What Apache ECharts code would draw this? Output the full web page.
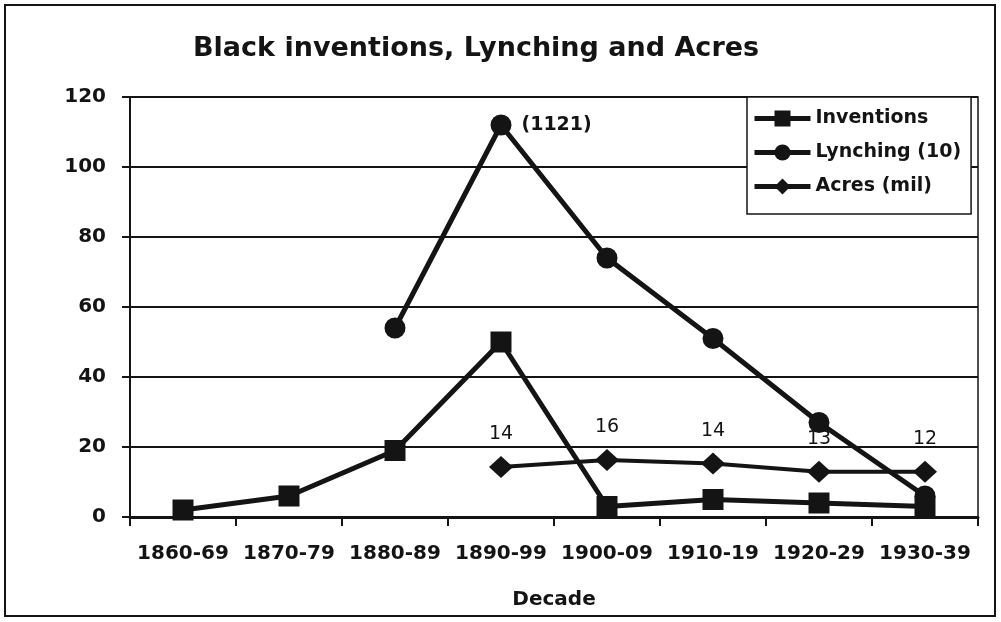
<!DOCTYPE html>
<html>
<head>
<meta charset="utf-8">
<script src="https://cdn.jsdelivr.net/npm/echarts@6/dist/echarts.min.js"></script>
<style>
    html, body {margin: 0; padding: 0; background: #fff;}
    #chart {width: 1001px; height: 622px;}
</style>
</head>
<body>
<div id="chart"></div>
<script>
// data
var decades = ['1860-69', '1870-79', '1880-89', '1890-99', '1900-09', '1910-19', '1920-29', '1930-39'];
var inventions = [2, 6, 19, 50, 3, 5, 4, 3];
var lynching = ['-', '-', 54, 112, 74, 51, 27, 6];   // lynchings / 10
var acres = ['-', '-', '-', 14.3, 16.3, 15.3, 12.9, 12.9];  // million acres
var acresLabels = ['', '', '', '14', '16', '14', '13', '12'];
var peakLabel = '(1121)';

var ink = '#141414';
var font = 'DejaVu Sans';

function drawChart(){
    var chart = echarts.init(document.getElementById('chart'));

    // lynching data with the peak annotation
    var lynchData = lynching.map(function (v, i) {
        if (i === 3) {
            return {
                value: v,
                label: {
                    show: true,
                    position: 'right',
                    distance: 10,
                    formatter: peakLabel,
                    color: ink,
                    fontFamily: font,
                    fontWeight: 'bold',
                    fontSize: 19
                }
            };
        }
        return v;
    });

    var option = {
        backgroundColor: '#fff',
        animation: false,
        title: {
            text: 'Black inventions, Lynching and Acres',
            left: 188,
            top: 30,
            textStyle: {
                color: ink,
                fontFamily: font,
                fontWeight: 'bold',
                fontSize: 27
            }
        },
        // outer frame
        graphic: [{
            type: 'rect',
            shape: {x: 5, y: 5, width: 990, height: 611},
            style: {fill: 'none', stroke: ink, lineWidth: 2}
        }],
        legend: {
            orient: 'vertical',
            left: 747,
            top: 97,
            backgroundColor: '#fff',
            borderColor: ink,
            borderWidth: 1.5,
            borderRadius: 0,
            padding: [11, 10, 17, 5],
            itemGap: 13,
            itemWidth: 56,
            itemHeight: 20,
            lineStyle: {width: 5},
            textStyle: {
                color: ink,
                fontFamily: font,
                fontWeight: 'bold',
                fontSize: 19,
                lineHeight: 21
            },
            data: ['Inventions', 'Lynching (10)', 'Acres (mil)']
        },
        grid: {
            left: 130,
            right: 23,
            top: 97,
            bottom: 105,
            show: true,
            borderColor: ink,
            borderWidth: 1.5
        },
        xAxis: {
            type: 'category',
            data: decades,
            boundaryGap: true,
            name: 'Decade',
            nameLocation: 'middle',
            nameGap: 73,
            nameTextStyle: {
                color: ink,
                fontFamily: font,
                fontWeight: 'bold',
                fontSize: 20
            },
            axisLine: {lineStyle: {color: ink, width: 3}},
            axisTick: {show: true, length: 9, lineStyle: {color: ink, width: 2}},
            axisLabel: {
                color: ink,
                fontFamily: font,
                fontWeight: 'bold',
                fontSize: 20,
                margin: 27,
                interval: 0
            },
            splitLine: {show: false}
        },
        yAxis: {
            type: 'value',
            min: 0,
            max: 120,
            interval: 20,
            axisLine: {show: true, lineStyle: {color: ink, width: 2}},
            axisTick: {show: true, length: 8, lineStyle: {color: ink, width: 2}},
            axisLabel: {
                color: ink,
                fontFamily: font,
                fontWeight: 'bold',
                fontSize: 20,
                margin: 24
            },
            splitLine: {show: true, lineStyle: {color: ink, width: 2}}
        },
        series: [
            {
                name: 'Inventions',
                type: 'line',
                symbol: 'rect',
                symbolSize: 21,
                lineStyle: {color: ink, width: 5},
                itemStyle: {color: ink},
                data: inventions
            },
            {
                name: 'Lynching (10)',
                type: 'line',
                symbol: 'circle',
                symbolSize: 21,
                lineStyle: {color: ink, width: 5},
                itemStyle: {color: ink},
                data: lynchData
            },
            {
                name: 'Acres (mil)',
                type: 'line',
                symbol: 'diamond',
                symbolSize: [24, 22],
                lineStyle: {color: ink, width: 4},
                itemStyle: {color: ink},
                label: {
                    show: true,
                    position: 'top',
                    distance: 12,
                    color: ink,
                    fontFamily: font,
                    fontSize: 19,
                    formatter: function (p) {
                        return acresLabels[p.dataIndex];
                    }
                },
                data: acres
            }
        ]
    };
    chart.setOption(option);
}

drawChart();
</script>
</body>
</html>
